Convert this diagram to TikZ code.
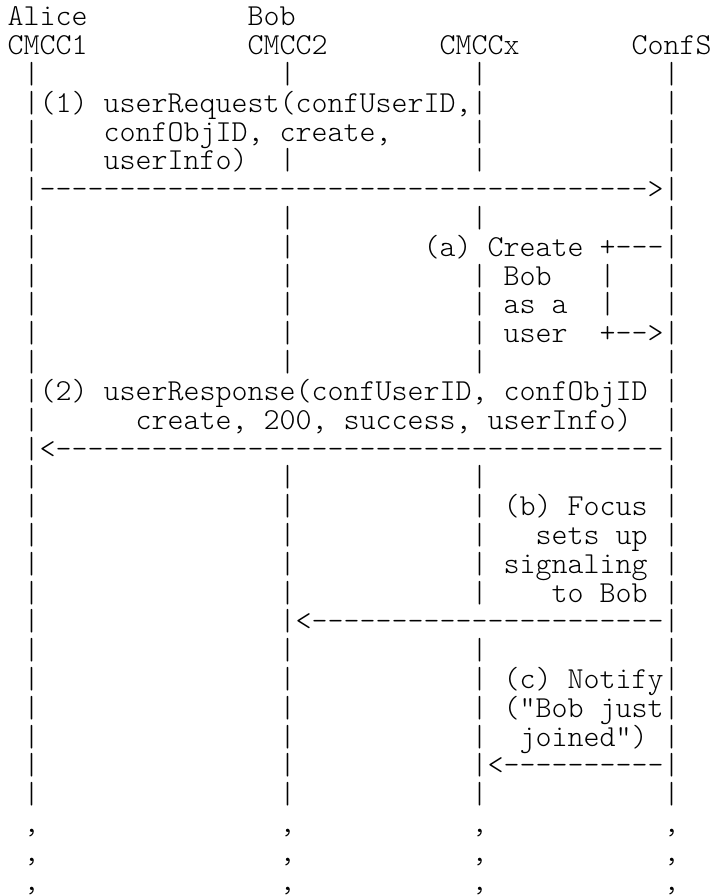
\documentclass[tikz,border=0pt]{standalone}
\usepackage{fontspec}
\newfontfamily\lmlight{lmmonolt10-regular}[Extension=.otf]
\newcommand{\pitch}{12.96}
\tikzset{
  asciiline/.style={anchor=base west, inner sep=0pt, outer sep=0pt,
    font=\lmlight\fontsize{13.714pt}{13pt}\selectfont, text=black}
}
\begin{document}
\begin{tikzpicture}[x=1pt,y=1pt]
\fill[white] (0,0) rectangle (320.4,-403.2);
\useasboundingbox (0,0) rectangle (320.4,-403.2);
\node[asciiline] (l1)  at (3.47,{-(11.7+0*\pitch)}) {Alice~~~~~~~~~~Bob};
\node[asciiline] (l2)  at (3.47,{-(11.7+1*\pitch)}) {CMCC1~~~~~~~~~~CMCC2~~~~~~~CMCCx~~~~~~~ConfS};
\node[asciiline] (l3)  at (3.47,{-(11.7+2*\pitch)}) {~|~~~~~~~~~~~~~~~|~~~~~~~~~~~|~~~~~~~~~~~|};
\node[asciiline] (l4)  at (3.47,{-(11.7+3*\pitch)}) {~|(1)~userRequest(confUserID,|~~~~~~~~~~~|};
\node[asciiline] (l5)  at (3.47,{-(11.7+4*\pitch)}) {~|~~~~confObjID,~create,~~~~~|~~~~~~~~~~~|};
\node[asciiline] (l6)  at (3.47,{-(11.7+5*\pitch)}) {~|~~~~userInfo)~~|~~~~~~~~~~~|~~~~~~~~~~~|};
\node[asciiline] (l7)  at (3.47,{-(11.7+6*\pitch)}) {~|-------------------------------------->|};
\node[asciiline] (l8)  at (3.47,{-(11.7+7*\pitch)}) {~|~~~~~~~~~~~~~~~|~~~~~~~~~~~|~~~~~~~~~~~|};
\node[asciiline] (l9)  at (3.47,{-(11.7+8*\pitch)}) {~|~~~~~~~~~~~~~~~|~~~~~~~~(a)~Create~+---|};
\node[asciiline] (l10) at (3.47,{-(11.7+9*\pitch)}) {~|~~~~~~~~~~~~~~~|~~~~~~~~~~~|~Bob~~~|~~~|};
\node[asciiline] (l11) at (3.47,{-(11.7+10*\pitch)}) {~|~~~~~~~~~~~~~~~|~~~~~~~~~~~|~as~a~~|~~~|};
\node[asciiline] (l12) at (3.47,{-(11.7+11*\pitch)}) {~|~~~~~~~~~~~~~~~|~~~~~~~~~~~|~user~~+-->|};
\node[asciiline] (l13) at (3.47,{-(11.7+12*\pitch)}) {~|~~~~~~~~~~~~~~~|~~~~~~~~~~~|~~~~~~~~~~~|};
\node[asciiline] (l14) at (3.47,{-(11.7+13*\pitch)}) {~|(2)~userResponse(confUserID,~confObjID~|};
\node[asciiline] (l15) at (3.47,{-(11.7+14*\pitch)}) {~|~~~~~~create,~200,~success,~userInfo)~~|};
\node[asciiline] (l16) at (3.47,{-(11.7+15*\pitch)}) {~|<--------------------------------------|};
\node[asciiline] (l17) at (3.47,{-(11.7+16*\pitch)}) {~|~~~~~~~~~~~~~~~|~~~~~~~~~~~|~~~~~~~~~~~|};
\node[asciiline] (l18) at (3.47,{-(11.7+17*\pitch)}) {~|~~~~~~~~~~~~~~~|~~~~~~~~~~~|~(b)~Focus~|};
\node[asciiline] (l19) at (3.47,{-(11.7+18*\pitch)}) {~|~~~~~~~~~~~~~~~|~~~~~~~~~~~|~~~sets~up~|};
\node[asciiline] (l20) at (3.47,{-(11.7+19*\pitch)}) {~|~~~~~~~~~~~~~~~|~~~~~~~~~~~|~signaling~|};
\node[asciiline] (l21) at (3.47,{-(11.7+20*\pitch)}) {~|~~~~~~~~~~~~~~~|~~~~~~~~~~~|~~~~to~Bob~|};
\node[asciiline] (l22) at (3.47,{-(11.7+21*\pitch)}) {~|~~~~~~~~~~~~~~~|<----------------------|};
\node[asciiline] (l23) at (3.47,{-(11.7+22*\pitch)}) {~|~~~~~~~~~~~~~~~|~~~~~~~~~~~|~~~~~~~~~~~|};
\node[asciiline] (l24) at (3.47,{-(11.7+23*\pitch)}) {~|~~~~~~~~~~~~~~~|~~~~~~~~~~~|~(c)~Notify|};
\node[asciiline] (l25) at (3.47,{-(11.7+24*\pitch)}) {~|~~~~~~~~~~~~~~~|~~~~~~~~~~~|~("Bob~just|};
\node[asciiline] (l26) at (3.47,{-(11.7+25*\pitch)}) {~|~~~~~~~~~~~~~~~|~~~~~~~~~~~|~~joined")~|};
\node[asciiline] (l27) at (3.47,{-(11.7+26*\pitch)}) {~|~~~~~~~~~~~~~~~|~~~~~~~~~~~|<----------|};
\node[asciiline] (l28) at (3.47,{-(11.7+27*\pitch)}) {~|~~~~~~~~~~~~~~~|~~~~~~~~~~~|~~~~~~~~~~~|};
\node[asciiline] (l29) at (3.47,{-(11.7+28*\pitch)}) {~,~~~~~~~~~~~~~~~,~~~~~~~~~~~,~~~~~~~~~~~,};
\node[asciiline] (l30) at (3.47,{-(11.7+29*\pitch)}) {~,~~~~~~~~~~~~~~~,~~~~~~~~~~~,~~~~~~~~~~~,};
\node[asciiline] (l31) at (3.47,{-(11.7+30*\pitch)}) {~,~~~~~~~~~~~~~~~,~~~~~~~~~~~,~~~~~~~~~~~,};
\end{tikzpicture}
\end{document}
